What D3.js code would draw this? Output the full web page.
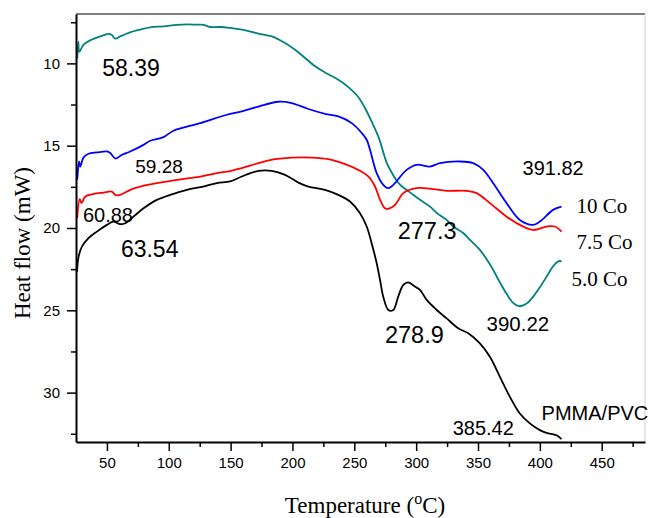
<!DOCTYPE html>
<html>
<head>
<meta charset="utf-8">
<script src="https://cdn.jsdelivr.net/npm/d3@7"></script>
<style>
  body { margin: 0; background: #fff; }
  svg { display: block; }
</style>
</head>
<body>
<script>
// DSC curves, [temperature, heat flow]
var pmmaPvc = [[25.8,22.66],[27.1,21.74],[29.8,21.13],[35.1,20.62],[41.9,20.22],[50.0,19.81],[55.3,19.61],
  [60.7,19.77],[64.8,19.71],[71.5,19.31],[79.6,18.80],[90.4,18.29],[101.1,17.99],[114.6,17.68],[128.0,17.48],
  [138.9,17.27],[149.6,17.17],[159.0,16.87],[172.5,16.53],[183.3,16.53],[194.0,16.77],[204.8,17.24],
  [212.8,17.48],[226.3,17.68],[237.1,17.99],[246.5,18.39],[254.6,19.10],[260.0,19.91],[264.0,20.92],
  [268.1,22.14],[270.8,23.16],[273.4,24.17],[277.5,24.98],[281.5,24.98],[285.5,24.17],[289.6,23.46],
  [293.6,23.30],[299.0,23.56],[303.1,23.76],[308.5,24.37],[316.6,24.98],[324.6,25.49],[334.0,26.09],
  [342.1,26.40],[351.5,27.01],[359.6,27.82],[367.7,29.04],[375.8,30.26],[383.8,31.27],[391.9,31.87],
  [400.0,32.28],[405.4,32.45],[413.5,32.59],[417.5,32.83]];

var co50 = [[26.0,9.71],[26.9,8.68],[27.6,9.3],[31.1,8.86],[36.5,8.60],[44.6,8.36],[51.3,8.21],[54.0,8.27],
  [56.7,8.50],[60.7,8.36],[68.8,8.11],[76.9,7.95],[85.0,7.81],[95.7,7.75],[106.5,7.66],[114.6,7.63],
  [122.7,7.65],[128.0,7.66],[133.4,7.79],[141.5,7.79],[149.6,7.85],[159.0,7.95],[172.5,8.19],[183.3,8.36],
  [194.0,8.76],[202.1,9.17],[210.2,9.67],[218.3,10.18],[226.3,10.55],[237.1,10.99],[245.2,11.44],
  [253.2,12.04],[258.6,12.71],[264.0,13.53],[269.9,14.54],[276.2,16.04],[280.0,16.6],[284.0,17.1],
  [288.0,17.45],[292.3,17.68],[297.7,17.99],[303.1,18.29],[311.2,18.70],[316.6,19.08],[324.6,19.51],
  [330.0,19.91],[338.0,20.30],[343.5,20.72],[351.5,21.33],[359.6,22.2],[367.7,23.3],[373.1,24.0],
  [378.4,24.55],[383.0,24.75],[386.5,24.7],[390.0,24.55],[394.6,24.17],[400.0,23.6],[405.4,22.96],
  [410.0,22.4],[413.5,22.1],[416.0,22.0],[417.5,22.05]];

var co75 = [[26.0,19.40],[28.0,18.25],[29.5,18.49],[32.5,18.09],[39.2,17.93],[47.3,17.85],[54.0,17.79],
  [56.7,17.99],[60.7,17.99],[68.8,17.68],[76.9,17.48],[90.4,17.27],[106.5,17.07],[122.7,16.91],
  [138.9,16.67],[149.6,16.54],[159.0,16.36],[172.5,16.06],[185.9,15.82],[199.4,15.72],[215.6,15.72],
  [229.0,15.82],[242.5,16.12],[253.2,16.47],[261.3,16.87],[266.7,17.48],[270.8,18.29],[274.2,18.76],
  [276.2,18.84],[282.9,18.60],[289.6,17.88],[300.4,17.58],[313.8,17.64],[324.6,17.74],[340.8,17.74],
  [348.9,17.88],[359.6,18.49],[373.1,19.31],[383.8,19.81],[394.6,20.12],[405.4,19.91],[412.1,19.91],
  [417.5,20.22]];

var co10 = [[26.0,17.07],[27.5,15.96],[28.4,16.27],[31.1,15.71],[35.1,15.49],[41.9,15.41],[50.0,15.35],
  [52.7,15.45],[57.0,15.78],[62.1,15.55],[68.8,15.35],[79.6,14.95],[85.0,14.70],[95.7,14.48],
  [103.8,14.09],[125.4,13.63],[146.9,13.12],[159.0,12.92],[172.5,12.62],[188.6,12.33],[199.4,12.41],
  [212.8,12.77],[226.3,13.06],[237.1,13.22],[247.9,13.63],[256.0,14.23],[260.0,14.64],[262.7,15.25],
  [268.1,16.67],[273.4,17.38],[277.5,17.58],[281.5,17.38],[292.3,16.47],[300.4,16.16],[311.2,16.27],
  [319.2,16.06],[335.4,15.96],[346.1,16.06],[354.2,16.47],[362.3,17.28],[373.1,18.49],[383.8,19.51],
  [394.6,19.81],[400.0,19.61],[410.7,18.90],[417.5,18.70]];

var xTicks = [50, 100, 150, 200, 250, 300, 350, 400, 450];
var yTicks = [10, 15, 20, 25, 30];

// peak labels: text, temperature, heat flow, font size
var peakLabels = [
  ["58.39", 46.2, 10.75, 23], ["59.28", 72.9, 16.65, 19], ["60.88", 30.6, 19.61, 20],
  ["63.54", 61.3, 21.74, 23], ["277.3", 285.1, 20.68, 23.5], ["391.82", 386.0, 16.77, 20],
  ["278.9", 274.8, 26.99, 23.5], ["390.22", 356.9, 26.24, 20.5], ["385.42", 329.5, 32.59, 20],
  ["PMMA/PVC", 401.4, 31.67, 20]
];
var seriesLabels = [["10 Co", 429.6, 19.10], ["7.5 Co", 429.6, 21.27], ["5.0 Co", 425.6, 23.52]];

var W = 651, H = 518;
var margin = {l: 76, t: 14, r: 6, b: 76};
var sans = "'Liberation Sans', Arial, sans-serif";
var serif = "'Liberation Serif', 'Times New Roman', serif";

var svg = d3.select("body").append("svg").attr("width", W).attr("height", H);

var x = d3.scaleLinear().domain([25, 485]).range([margin.l, W - margin.r]);
var y = d3.scaleLinear().domain([7, 33]).range([margin.t, H - margin.b]);

// frame: top and right
svg.append("line").attr("x1", margin.l).attr("x2", W - margin.r)
  .attr("y1", margin.t).attr("y2", margin.t)
  .attr("stroke", "#555").attr("stroke-width", 1.5);
svg.append("line").attr("x1", W - margin.r).attr("x2", W - margin.r)
  .attr("y1", margin.t).attr("y2", H - margin.b)
  .attr("stroke", "#ccc").attr("stroke-width", 1);

var line = d3.line().x(function (d) { return x(d[0]); }).y(function (d) { return y(d[1]); })
  .curve(d3.curveCatmullRom.alpha(0.5));

var curves = [[co50, "#008080"], [co10, "#0000ff"], [co75, "#ff0000"], [pmmaPvc, "#000"]];
curves.forEach(function (c) {
  svg.append("path").datum(c[0]).attr("d", line)
    .attr("fill", "none").attr("stroke", c[1]).attr("stroke-width", 1.8);
});

// axes
var xMinor = d3.range(75, 485, 50);
var yMinor = d3.range(7.5, 33, 5);

svg.append("g").attr("transform", "translate(0," + (H - margin.b) + ")")
  .call(d3.axisBottom(x).tickValues(xMinor).tickSize(5).tickFormat(""))
  .call(function (g) { g.select(".domain").remove(); });
var gx = svg.append("g").attr("transform", "translate(0," + (H - margin.b) + ")")
  .call(d3.axisBottom(x).tickValues(xTicks).tickSize(9).tickPadding(6).tickSizeOuter(0));

svg.append("g").attr("transform", "translate(" + margin.l + ",0)")
  .call(d3.axisLeft(y).tickValues(yMinor).tickSize(5).tickFormat(""))
  .call(function (g) { g.select(".domain").remove(); });
var gy = svg.append("g").attr("transform", "translate(" + margin.l + ",0)")
  .call(d3.axisLeft(y).tickValues(yTicks).tickSize(9).tickPadding(7).tickSizeOuter(0));

svg.selectAll(".tick line").attr("stroke", "#000").attr("stroke-width", 1.5);
[gx, gy].forEach(function (g) {
  g.select(".domain").attr("stroke", "#000").attr("stroke-width", 2);
  g.selectAll("text").attr("font-family", sans).attr("font-size", 15).attr("fill", "#000");
});

// annotations
svg.selectAll("text.peak").data(peakLabels).enter().append("text")
  .attr("class", "peak")
  .attr("x", function (d) { return x(d[1]); })
  .attr("y", function (d) { return y(d[2]); })
  .attr("font-family", sans)
  .attr("font-size", function (d) { return d[3]; })
  .text(function (d) { return d[0]; });

svg.selectAll("text.series").data(seriesLabels).enter().append("text")
  .attr("class", "series")
  .attr("x", function (d) { return x(d[1]); })
  .attr("y", function (d) { return y(d[2]); })
  .attr("font-family", serif).attr("font-size", 21)
  .text(function (d) { return d[0]; });

// axis titles
svg.append("text").attr("transform", "translate(30,243) rotate(-90)")
  .attr("text-anchor", "middle").attr("font-family", serif).attr("font-size", 23)
  .text("Heat flow (mW)");

var xt = svg.append("text").attr("x", 365).attr("y", 513)
  .attr("text-anchor", "middle").attr("font-family", serif).attr("font-size", 23);
xt.append("tspan").text("Temperature (");
xt.append("tspan").attr("dy", -9).attr("font-size", 16).text("o");
xt.append("tspan").attr("dy", 9).text("C)");
</script>
</body>
</html>
